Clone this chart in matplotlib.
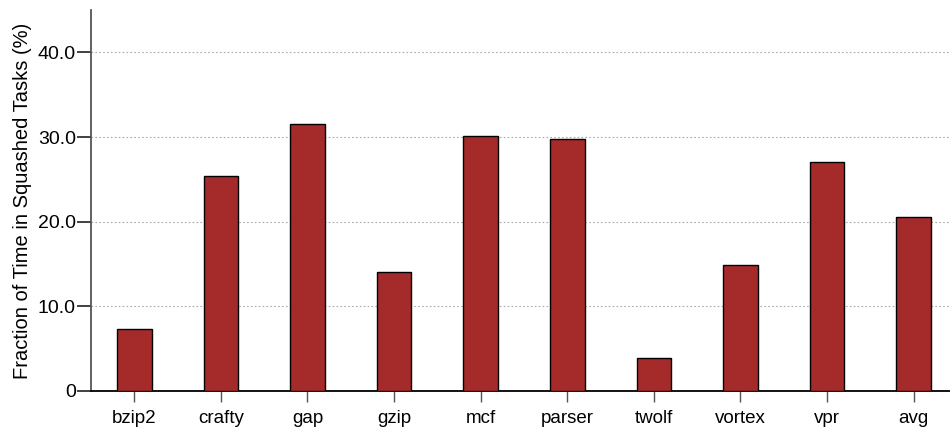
import numpy as np
import matplotlib.pyplot as plt

plt.rcParams['font.family'] = ['Liberation Sans', 'DejaVu Sans']

benchmarks = ['bzip2', 'crafty', 'gap', 'gzip', 'mcf', 'parser',
              'twolf', 'vortex', 'vpr', 'avg']
squashed = [7.3, 25.4, 31.5, 14.0, 30.1, 29.8, 3.9, 14.9, 27.1, 20.5]
yticks = [0, 10, 20, 30, 40]
ytick_labels = ['0', '10.0', '20.0', '30.0', '40.0']

fig = plt.figure(figsize=(9.5, 4.29), dpi=100)
ax = fig.add_axes([0.0958, 0.0886, 0.9042, 0.888])

x = np.arange(len(benchmarks))
ax.bar(x, squashed, width=0.40, color='#A52A2A', edgecolor='black',
       linewidth=1.0, zorder=3)

ax.set_xlim(-0.5, 9.42)
ax.set_ylim(0, 45)
ax.set_xticks(x)
ax.set_xticklabels(benchmarks, fontsize=13.5)
ax.set_yticks(yticks)
ax.set_yticklabels(ytick_labels, fontsize=14)
ax.set_ylabel('Fraction of Time in Squashed Tasks (%)', fontsize=14.5,
              labelpad=4)

ax.yaxis.grid(True, linestyle=(0, (1.5, 2)), color='#aaaaaa', linewidth=0.8)
ax.set_axisbelow(True)

for s in ['top', 'right']:
    ax.spines[s].set_visible(False)
ax.spines['left'].set_color('#555555')
ax.spines['left'].set_linewidth(1.3)
ax.spines['bottom'].set_color('black')
ax.spines['bottom'].set_linewidth(1.3)

ax.tick_params(axis='y', direction='out', length=10, width=1.3,
               color='#333333', pad=1)
ax.tick_params(axis='x', direction='out', length=8, width=1.0,
               color='#555555', pad=6)

fig.savefig('out.png', dpi=100)
